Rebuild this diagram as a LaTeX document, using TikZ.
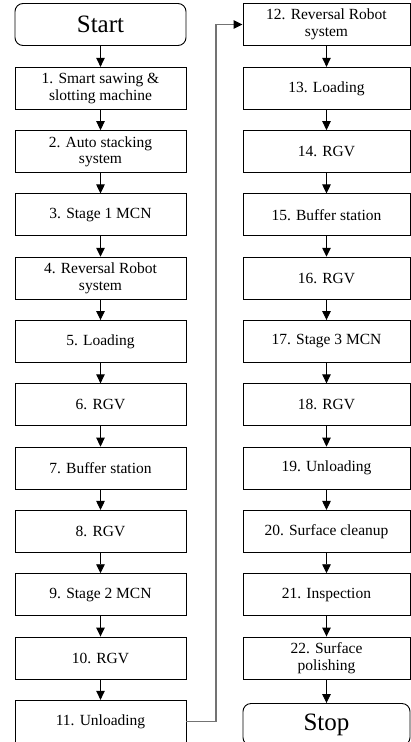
\documentclass[tikz,border=0pt]{standalone}
\usepackage{fontspec}
\setmainfont{Liberation Serif}
\usetikzlibrary{arrows.meta, positioning}

\begin{document}
\begin{tikzpicture}[x=1pt, y=1pt,
  stepbox/.style={draw, line width=0.9pt, minimum width=#1, minimum height=42pt,
    inner sep=2pt, align=center, font=\fontsize{15.5}{16.5}\selectfont},
  stepbox/.default=171pt,
  termbox/.style={stepbox=#1, rounded corners=8pt, font=\fontsize{25}{28}\selectfont},
  termbox/.default=171pt,
  arr/.style={-{Triangle[width=8.5pt,length=9pt]}, line width=0.9pt},
  link/.style={draw=black!55, line width=1.4pt, -{Triangle[width=8.5pt,length=9pt,color=black]}}
]
\useasboundingbox (0,0) rectangle (411,-742);

% Left column
\node[termbox] (s0)  at (100.5,-24.5) {Start};
\node[stepbox] (n1)  at (100.5,-88.3) {1. Smart sawing \&\\slotting machine};
\node[stepbox] (n2)  at (100.5,-151.6) {2. Auto stacking\\system};
\node[stepbox] (n3)  at (100.5,-214.9) {3. Stage 1 MCN};
\node[stepbox] (n4)  at (100.5,-278.2) {4. Reversal Robot\\system};
\node[stepbox] (n5)  at (100.5,-341.5) {5. Loading};
\node[stepbox] (n6)  at (100.5,-404.8) {6. RGV};
\node[stepbox] (n7)  at (100.5,-468.1) {7. Buffer station};
\node[stepbox] (n8)  at (100.5,-531.4) {8. RGV};
\node[stepbox] (n9)  at (100.5,-594.7) {9. Stage 2 MCN};
\node[stepbox] (n10) at (100.5,-658.0) {10. RGV};
\node[stepbox] (n11) at (100.5,-721.3) {11. Unloading};

% Right column
\node[stepbox=167pt] (n12) at (326.5,-24.5) {12. Reversal Robot\\system};
\node[stepbox=167pt] (n13) at (326.5,-88.3) {13. Loading};
\node[stepbox=167pt] (n14) at (326.5,-151.6) {14. RGV};
\node[stepbox=167pt] (n15) at (326.5,-214.9) {15. Buffer station};
\node[stepbox=167pt] (n16) at (326.5,-278.2) {16. RGV};
\node[stepbox=167pt] (n17) at (326.5,-341.5) {17. Stage 3 MCN};
\node[stepbox=167pt] (n18) at (326.5,-404.8) {18. RGV};
\node[stepbox=167pt] (n19) at (326.5,-468.1) {19. Unloading};
\node[stepbox=167pt] (n20) at (326.5,-531.4) {20. Surface cleanup};
\node[stepbox=167pt] (n21) at (326.5,-594.7) {21. Inspection};
\node[stepbox=167pt] (n22) at (326.5,-658.0) {22. Surface\\polishing};
\node[termbox=167pt] (stop) at (326.5,-724.5) {Stop};

% Flow arrows
\foreach \a/\b in {s0/n1,n1/n2,n2/n3,n3/n4,n4/n5,n5/n6,n6/n7,n7/n8,n8/n9,n9/n10,n10/n11,
  n12/n13,n13/n14,n14/n15,n15/n16,n16/n17,n17/n18,n18/n19,n19/n20,n20/n21,n21/n22,n22/stop}
  \draw[arr] (\a) -- (\b);

% Link to second column
\coordinate (turn) at (216,-721.3);
\draw[link] (n11.east) -- (turn) |- (n12.west);
\end{tikzpicture}
\end{document}
